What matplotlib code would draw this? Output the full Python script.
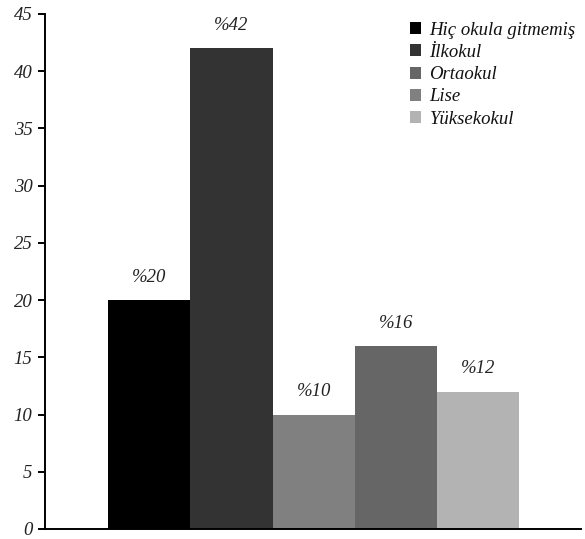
import matplotlib
matplotlib.use("Agg")
import matplotlib.pyplot as plt
from matplotlib.patches import Patch

# Education level shares (percent), in bar order
bar_labels = ["Hiç okula gitmemiş", "İlkokul", "Lise", "Ortaokul", "Yüksekokul"]
bar_values = [20, 42, 10, 16, 12]
bar_colors = ["#000000", "#333333", "#808080", "#666666", "#b3b3b3"]

# Legend entries
legend_labels = ["Hiç okula gitmemiş", "İlkokul", "Ortaokul", "Lise", "Yüksekokul"]
legend_colors = ["#000000", "#333333", "#666666", "#808080", "#b3b3b3"]

y_ticks = [0, 5, 10, 15, 20, 25, 30, 35, 40, 45]

font = {"family": "Liberation Serif", "style": "italic"}

fig = plt.figure(figsize=(5.85, 5.39), dpi=100)
ax = fig.add_axes([0.0769, 0.0186, 0.9162, 0.9555])

x = list(range(len(bar_values)))
ax.bar(x, bar_values, width=1.0, color=bar_colors, linewidth=0)

for xi, v in zip(x, bar_values):
    ax.text(xi, v + 1.25, f"%{v}", ha="center", va="bottom", fontsize=13.5,
            color="#222222", **font)

ax.set_xlim(-1.27, 5.25)
ax.set_ylim(0, 45)
ax.set_yticks(y_ticks)
ax.set_yticklabels([str(t) for t in y_ticks], fontsize=13.5, color="#222222", **font)
ax.set_xticks([])

for side in ["top", "right"]:
    ax.spines[side].set_visible(False)
for side in ["left", "bottom"]:
    ax.spines[side].set_linewidth(1.4)
ax.tick_params(axis="y", direction="out", length=5, width=1.4, pad=4)

handles = [Patch(facecolor=c, edgecolor="none") for c in legend_colors]
leg = ax.legend(handles, legend_labels, loc="upper right", bbox_to_anchor=(0.99, 0.985),
                frameon=False, prop={"family": "Liberation Serif", "style": "italic", "size": 13.5},
                handlelength=0.6, handleheight=0.6, handletextpad=0.45, labelspacing=0.28,
                borderaxespad=0.0, borderpad=0.0)
for t in leg.get_texts():
    t.set_color("#111111")

fig.savefig("out.png", dpi=100)
